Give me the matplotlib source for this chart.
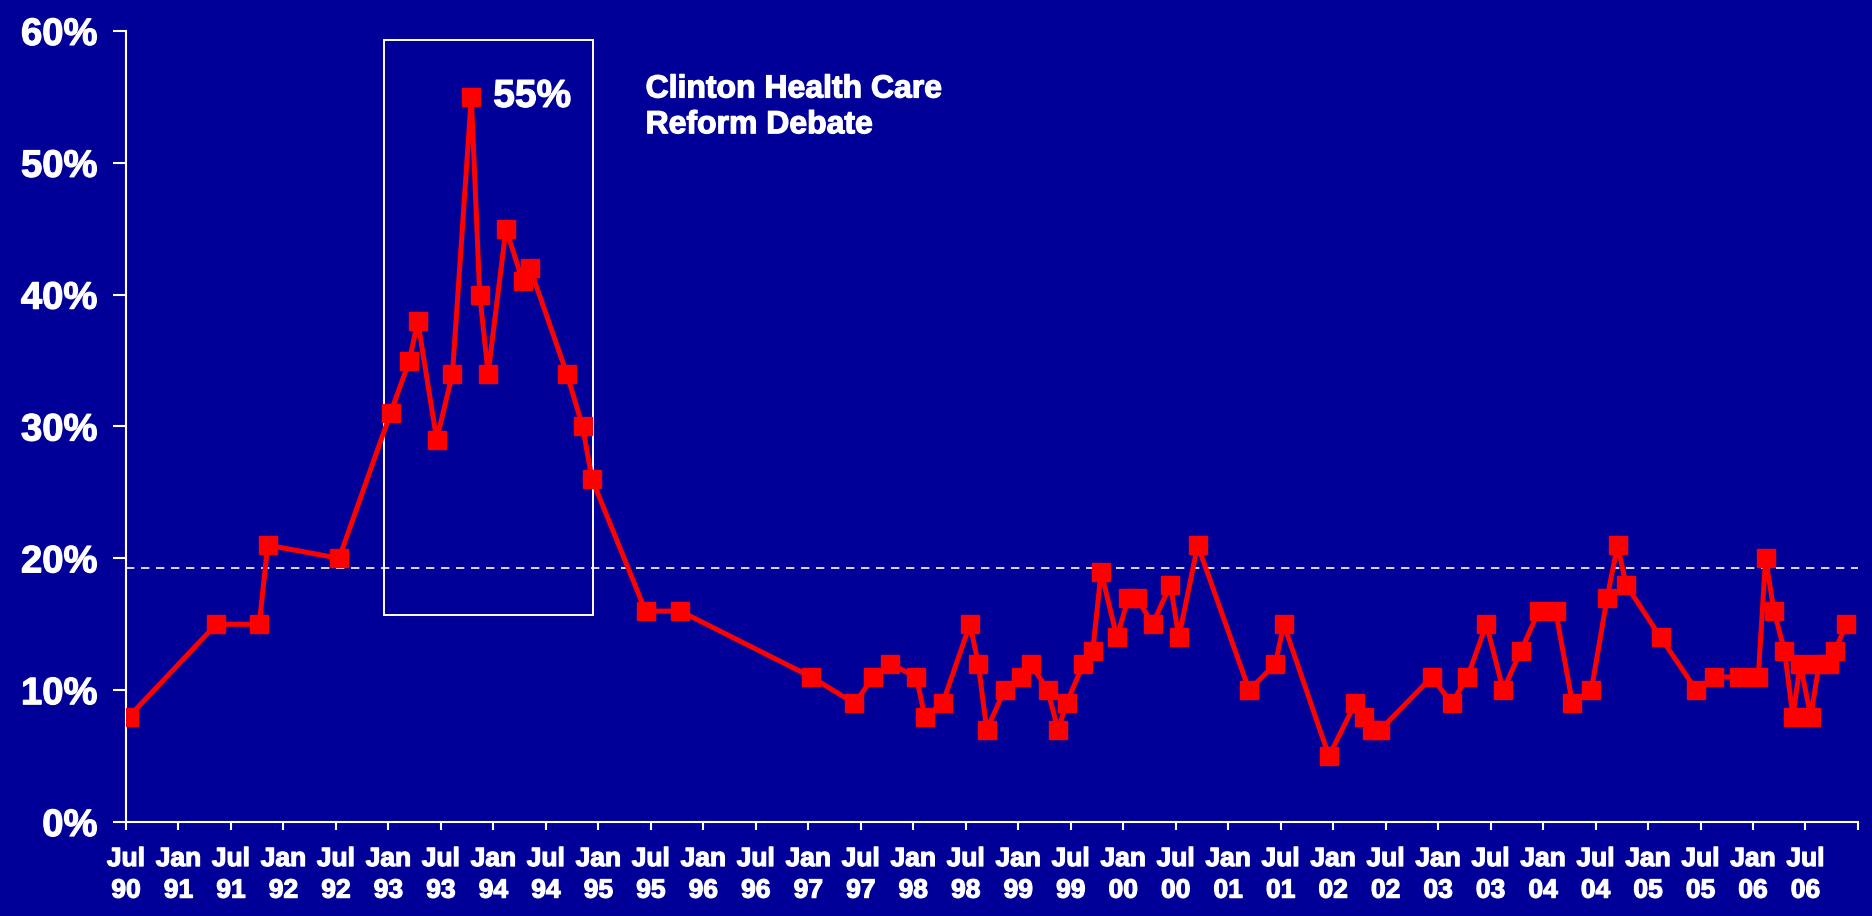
import matplotlib
matplotlib.use('Agg')
import matplotlib.pyplot as plt
import matplotlib.patches as mpatches
import matplotlib.patheffects as pe

plt.rcParams['font.family'] = ['Liberation Sans', 'DejaVu Sans']

# survey dates (decimal years) and share naming health care (%)
dates = [1990.53, 1991.36, 1991.77, 1991.85, 1992.53, 1993.02, 1993.20, 1993.28, 1993.46, 1993.61,
         1993.79, 1993.87, 1993.95, 1994.12, 1994.28, 1994.35, 1994.70, 1994.85, 1994.94, 1995.45,
         1995.78, 1997.03, 1997.44, 1997.62, 1997.78, 1998.03, 1998.11, 1998.28, 1998.54, 1998.62,
         1998.70, 1998.87, 1999.03, 1999.12, 1999.28, 1999.38, 1999.46, 1999.62, 1999.71, 1999.79,
         1999.94, 2000.05, 2000.13, 2000.28, 2000.45, 2000.53, 2000.71, 2001.20, 2001.45, 2001.53,
         2001.96, 2002.21, 2002.29, 2002.37, 2002.45, 2002.94, 2003.13, 2003.28, 2003.46, 2003.62,
         2003.79, 2003.96, 2004.12, 2004.28, 2004.46, 2004.61, 2004.71, 2004.79, 2005.12, 2005.46,
         2005.63, 2005.87, 2006.05, 2006.12, 2006.20, 2006.30, 2006.38, 2006.45, 2006.55, 2006.63,
         2006.72, 2006.78, 2006.89]
values = [8, 15, 15, 21, 20, 31, 35, 38, 29, 34,
          55, 40, 34, 45, 41, 42, 34, 30, 26, 16,
          16, 11, 9, 11, 12, 11, 8, 9, 15, 12,
          7, 10, 11, 12, 10, 7, 9, 12, 13, 19,
          14, 17, 17, 15, 18, 14, 21, 10, 12, 15,
          5, 9, 8, 7, 7, 11, 9, 11, 15, 10,
          13, 16, 16, 9, 10, 17, 21, 18, 14, 10,
          11, 11, 11, 20, 16, 13, 8, 12, 8, 12,
          12, 13, 15]

avg_level = 19.3
# half-year ticks from Jul 90 to Jan 07 (last one unlabeled)
tick_months = ['Jul', 'Jan'] * 16 + ['Jul', '']
tick_years = ['90'] + [f'{y % 100:02d}' for y in range(1991, 2007) for _ in (0, 1)] + ['']
y_ticks = [0, 10, 20, 30, 40, 50, 60]

bg = '#000099'
heavy = [pe.withStroke(linewidth=0.9, foreground='white')]  # fatter bold like the original

fig = plt.figure(figsize=(18.72, 9.16), dpi=100, facecolor=bg)
ax = fig.add_axes([0.0673, 0.1026, 0.9252, 0.8636])
ax.set_facecolor(bg)

ax.plot(dates, values, color='#ff0000', lw=3.6, marker='s', markersize=12.5,
        markerfacecolor='#ff0000', markeredgecolor='#ff0000', zorder=3)

# average line
ax.axhline(avg_level, color='white', lw=1.2, ls=(0, (5, 4)), zorder=2)

# Clinton debate box
rect = mpatches.Rectangle((1992.96, 15.7), 1994.95 - 1992.96, 59.35 - 15.7,
                          fill=False, edgecolor='white', lw=1.4, zorder=2)
ax.add_patch(rect)
ax.text(1994.37, 55.0, '55%', color='white', fontsize=28, fontweight='bold',
        ha='center', va='center', path_effects=heavy)
ax.text(1995.45, 56.7, 'Clinton Health Care\nReform Debate', color='white',
        fontsize=23, fontweight='bold', ha='left', va='top', linespacing=1.25,
        path_effects=heavy)

ax.set_xlim(1990.5, 2007.0)
ax.set_ylim(0, 60)

xt = [1990.5 + 0.5 * i for i in range(len(tick_months))]
ax.set_xticks(xt)
ax.set_xticklabels([f'{m}\n{y}' if m else '' for m, y in zip(tick_months, tick_years)],
                   fontsize=19, fontweight='bold', color='white', linespacing=1.4)
ax.set_yticks(y_ticks)
ax.set_yticklabels([f'{v}%' for v in y_ticks], fontsize=27.5, fontweight='bold', color='white')
for lab in ax.get_xticklabels() + ax.get_yticklabels():
    lab.set_path_effects(heavy)

ax.tick_params(axis='x', colors='white', length=6, width=1.5, pad=12, direction='out')
ax.tick_params(axis='y', colors='white', length=9.5, width=1.5, pad=11, direction='out')

for s in ['top', 'right']:
    ax.spines[s].set_visible(False)
for s in ['left', 'bottom']:
    ax.spines[s].set_color('white')
    ax.spines[s].set_linewidth(1.5)

fig.savefig('out.png', dpi=100, facecolor=bg)
